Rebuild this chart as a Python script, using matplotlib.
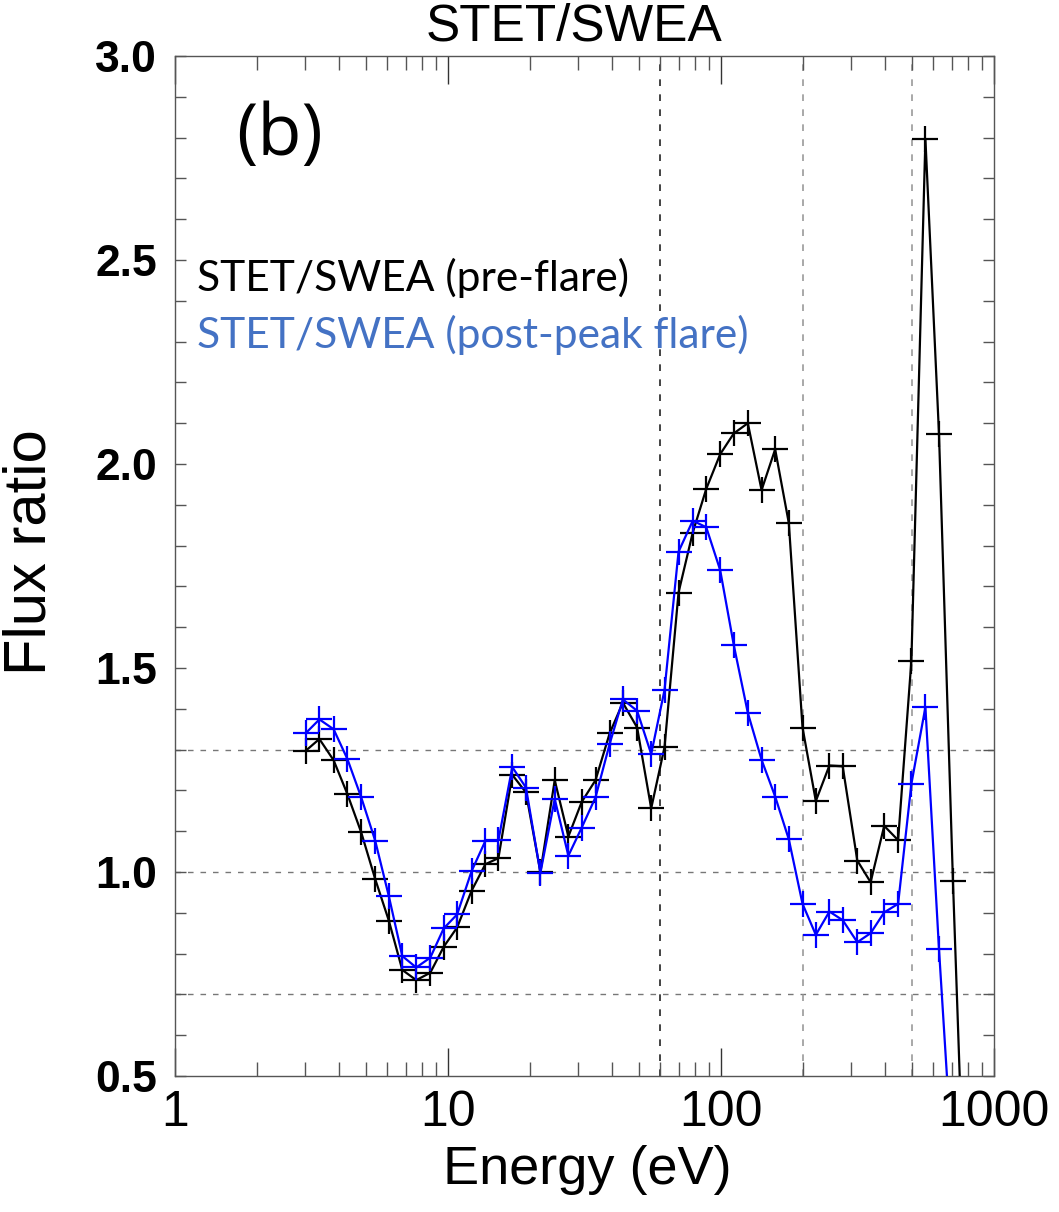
import matplotlib
matplotlib.use("Agg")
import matplotlib.pyplot as plt
from matplotlib.ticker import FixedLocator, NullFormatter, MultipleLocator

energy = [3.01, 3.38, 3.81, 4.28, 4.81, 5.41, 6.07, 6.80, 7.65, 8.61, 9.65, 10.8,
          12.2, 13.7, 15.3, 17.2, 19.3, 21.8, 24.6, 27.6, 30.9, 34.7, 39.1, 43.7,
          49.3, 55.5, 62.1, 69.9, 78.8, 88.3, 99.3, 111.4, 125.4, 140.8, 157.9, 177.2,
          198.9, 222.5, 249.5, 279.1, 315.7, 353.2, 396.1, 445.4, 498.2, 560.7, 628.8,
          707.3, 793.0]

pre_flare = [1.297, 1.326, 1.274, 1.191, 1.097, 0.983, 0.881, 0.760, 0.735, 0.753,
             0.817, 0.864, 0.954, 1.019, 1.034, 1.238, 1.195, 1.000, 1.225, 1.087,
             1.172, 1.225, 1.340, 1.415, 1.354, 1.156, 1.306, 1.685, 1.832, 1.939,
             2.024, 2.075, 2.100, 1.936, 2.036, 1.855, 1.354, 1.174, 1.261, 1.259,
             1.028, 0.975, 1.113, 1.078, 1.518, 2.797, 2.074, 0.978, 0.02]

post_peak = [1.340, 1.374, 1.350, 1.277, 1.183, 1.077, 0.941, 0.794, 0.766, 0.790,
             0.862, 0.896, 1.002, 1.076, 1.078, 1.257, 1.207, 0.998, 1.179, 1.040,
             1.109, 1.183, 1.314, 1.423, 1.395, 1.289, 1.446, 1.785, 1.861, 1.845,
             1.740, 1.556, 1.390, 1.275, 1.185, 1.080, 0.922, 0.846, 0.903, 0.882,
             0.828, 0.850, 0.901, 0.922, 1.216, 1.404, 0.811, 0.265]

hlines = [0.7, 1.0, 1.3]
vlines = [60, 200, 500]
vline_colors = ["#222222", "#999999", "#999999"]

x_ticks = [1, 10, 100, 1000]
x_ticklabels = ["1", "10", "100", "1000"]
y_ticks = [0.5, 1.0, 1.5, 2.0, 2.5, 3.0]
y_ticklabels = ["0.5", "1.0", "1.5", "2.0", "2.5", "3.0"]

title = "STET/SWEA"
xlabel = "Energy (eV)"
ylabel = "Flux ratio"
legend_pre = "STET/SWEA (pre-flare)"
legend_post = "STET/SWEA (post-peak flare)"
panel = "(b)"

narrow = ["Liberation Sans Narrow", "Liberation Sans", "DejaVu Sans"]
arial = ["Liberation Sans", "DejaVu Sans"]
calib = ["Lato", "DejaVu Sans"]

fig = plt.figure(figsize=(10.59, 12.12), dpi=100)
ax = fig.add_axes([175 / 1059, 1 - 1076 / 1212, 819 / 1059, 1020 / 1212])

for h in hlines:
    ax.axhline(h, color="#777777", lw=1.0, ls=(0, (4, 5)), zorder=1)
for v, c in zip(vlines, vline_colors):
    ax.axvline(v, color=c, lw=1.2, ls=(0, (4, 5)), zorder=1)

ax.plot(energy, pre_flare, color="black", lw=1.6, marker="+", ms=19, mew=1.6, zorder=3)
ax.plot(energy[:len(post_peak)], post_peak, color="#0000FF", lw=1.6, marker="+",
        ms=19, mew=1.6, zorder=4)

ax.set_xscale("log")
ax.set_xlim(1, 1000)
ax.set_ylim(0.5, 3.0)

ax.xaxis.set_major_locator(FixedLocator(x_ticks))
ax.set_xticklabels(x_ticklabels, fontfamily=narrow, fontsize=36)
ax.xaxis.set_minor_locator(FixedLocator([m * d for d in (1, 10, 100) for m in range(2, 10)]))
ax.xaxis.set_minor_formatter(NullFormatter())
ax.set_yticks(y_ticks)
ax.set_yticklabels(y_ticklabels, fontfamily=arial, fontsize=32, fontweight="bold")
ax.yaxis.set_minor_locator(MultipleLocator(0.1))

ax.tick_params(axis="x", which="major", direction="in", length=20, width=1.0,
               top=True, bottom=True, pad=10, color="#333333")
ax.tick_params(axis="x", which="minor", direction="in", length=10, width=1.0,
               top=True, bottom=True, color="#555555")
ax.tick_params(axis="y", which="major", direction="in", length=8, width=1.0,
               left=True, right=True, pad=13, color="#555555")
ax.tick_params(axis="y", which="minor", direction="in", length=8, width=1.0,
               left=True, right=True, color="#555555")
for s in ax.spines.values():
    s.set_color("#555555")
    s.set_linewidth(1.0)

fig.text(574 / 1059, 1 - 27 / 1212, title, ha="center", va="center",
         fontfamily=narrow, fontsize=37)
fig.text(587 / 1059, 1 - 1170 / 1212, xlabel, ha="center", va="center",
         fontfamily=narrow, fontsize=39)
fig.text(30 / 1059, 1 - 552 / 1212, ylabel, ha="center", va="center",
         rotation=90, fontfamily=arial, fontsize=43)

ax.text(0.027, 0.782, legend_pre, transform=ax.transAxes, ha="left", va="center",
        fontfamily=calib, fontsize=30.6, color="black")
ax.text(0.027, 0.727, legend_post, transform=ax.transAxes, ha="left", va="center",
        fontfamily=calib, fontsize=30.6, color="#4472C4")
ax.text(0.075, 0.921, panel, transform=ax.transAxes, ha="left", va="center",
        fontfamily=["Open Sans", "DejaVu Sans"], fontsize=52, color="black")

fig.savefig("out.png", dpi=100)
